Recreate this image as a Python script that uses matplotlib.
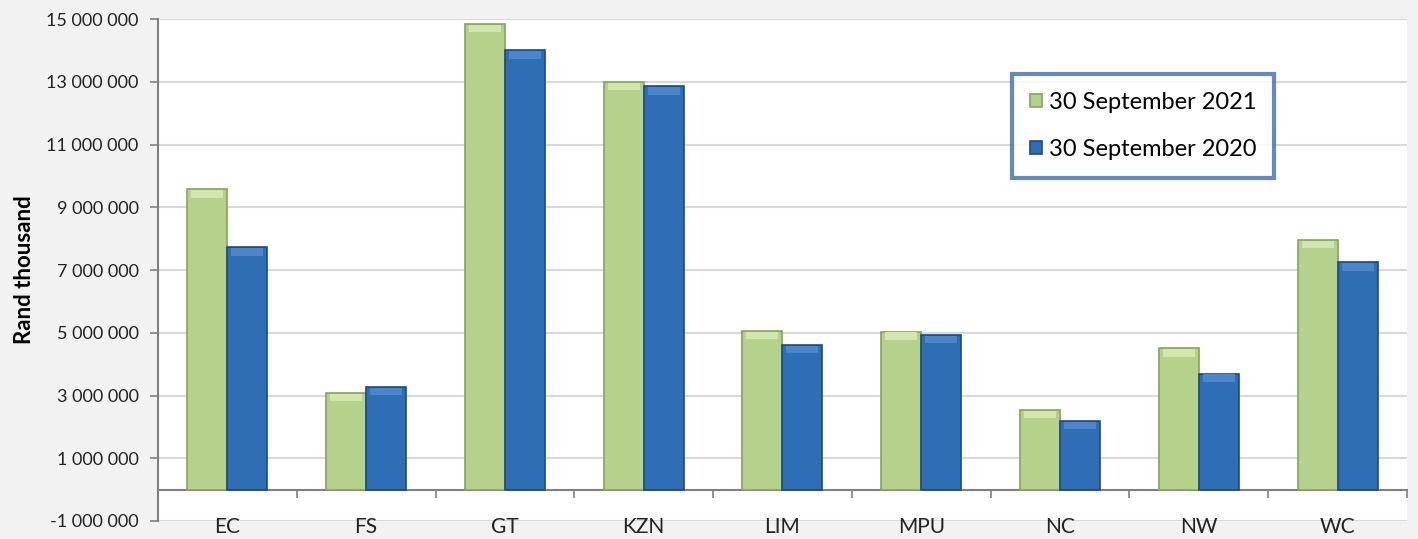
import numpy as np
import matplotlib
matplotlib.use('Agg')
import matplotlib.pyplot as plt
from matplotlib.ticker import FuncFormatter

plt.rcParams['font.family'] = ['Lato', 'DejaVu Sans']

provinces = ['EC', 'FS', 'GT', 'KZN', 'LIM', 'MPU', 'NC', 'NW', 'WC']
sep2021 = [9570000, 3090000, 14850000, 13000000, 5070000, 5040000, 2550000, 4500000, 7970000]
sep2020 = [7720000, 3280000, 14000000, 12850000, 4620000, 4940000, 2200000, 3700000, 7240000]
series_names = ['30 September 2021', '30 September 2020']

green = '#b6d18b'
blue = '#2f6db5'

fig = plt.figure(figsize=(14.18, 5.39), dpi=100)
fig.patch.set_facecolor('#f2f2f2')
ax = fig.add_axes([0.1114, 0.0334, 0.8808, 0.9313])
ax.set_facecolor('white')

x = np.arange(len(provinces))
w = 0.288
b1 = ax.bar(x - w/2, sep2021, width=w, color=green, edgecolor='#86a35c',
            linewidth=1.2, label=series_names[0], zorder=3)
b2 = ax.bar(x + w/2, sep2020, width=w, color=blue, edgecolor='#1d4a80',
            linewidth=1.2, label=series_names[1], zorder=3)

# lighter bevel band on top of each bar
for bars, col in [(b1, '#d3e6ad'), (b2, '#4c85c9')]:
    for r in bars:
        ax.bar(r.get_x() + r.get_width()/2, 230000, width=r.get_width()*0.8,
               bottom=r.get_height() - 260000, color=col, linewidth=0, zorder=4)

ax.set_xlim(-0.5, len(provinces) - 0.5)
ax.set_ylim(-1000000, 15000000)
yt = np.arange(-1000000, 15000001, 2000000)
ax.set_yticks(yt)
ax.yaxis.set_major_formatter(FuncFormatter(lambda v, p: '{:,.0f}'.format(v).replace(',', ' ')))
ax.grid(axis='y', color='#d9d9d9', linewidth=1.5, zorder=0)
ax.tick_params(axis='y', labelsize=13, colors='#808080', labelcolor='#222222',
               length=6, width=1.2, pad=8)

# category axis crossing at zero
ax.spines['bottom'].set_position(('data', 0))
ax.spines['bottom'].set_color('#808080')
ax.spines['bottom'].set_linewidth(1.5)
ax.spines['left'].set_color('#808080')
ax.spines['left'].set_linewidth(1.5)
ax.spines['top'].set_visible(False)
ax.spines['right'].set_visible(False)
ax.set_xticks(np.arange(0.5, len(provinces) - 0.5, 1.0))
ax.set_xticks([len(provinces) - 0.5], minor=True)
ax.tick_params(axis='x', which='both', length=6, width=1.2, colors='#808080',
               labelbottom=False)
for i, p in enumerate(provinces):
    ax.text(i, 0.008, p, transform=ax.get_xaxis_transform(), ha='center',
            va='top', fontsize=15, color='#222222')

ax.set_ylabel('Rand thousand', fontsize=16, fontweight='bold', labelpad=8)

leg = ax.legend(loc='upper left', bbox_to_anchor=(0.684, 0.89), fontsize=17,
                frameon=True, fancybox=False, handlelength=0.5, handleheight=0.5,
                handletextpad=0.3, labelspacing=1.1, borderpad=0.75,
                borderaxespad=0)
leg.get_frame().set_edgecolor('#3b6fb0')
leg.get_frame().set_linewidth(3)

fig.savefig('out.png', dpi=100, facecolor=fig.get_facecolor())
